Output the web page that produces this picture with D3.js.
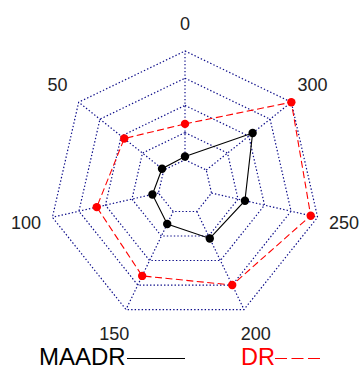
<!DOCTYPE html>
<html>
<head>
<meta charset="utf-8">
<script src="https://cdn.jsdelivr.net/npm/d3@7"></script>
<style>
  html, body { margin: 0; padding: 0; background: #fff; }
  svg { display: block; }
  text { font-family: "Liberation Sans", Arial, sans-serif; }
</style>
</head>
<body>
<svg id="chart" width="360" height="368"></svg>
<script>
// Axis labels, clockwise from the top
const axisLabels = ["0", "300", "250", "200", "150", "100", "50"];
// Scaled values (0 = innermost ring, 1 = outermost ring)
const maadr = [0.03, 0.545, 0.315, 0.275, 0.127, 0.057, 0.02];
const dr    = [0.33, 1.0, 0.935, 0.75, 0.657, 0.582, 0.464];
const gridLevels = [0, 0.25, 0.5, 0.75, 1];
const seriesNames = ["MAADR", "DR"];

const svg = d3.select("#chart");
const cx = 185, cy = 187, R = 136;
const g = svg.append("g").attr("transform", `translate(${cx},${cy})`);

const n = axisLabels.length;
const angle = d3.scaleLinear().domain([0, n]).range([0, 2 * Math.PI]);
const radius = d3.scaleLinear().domain([0, 1]).range([R * 0.2, R]);

const pt = (i, v) => {
  const a = angle(i), r = radius(v);
  return [r * Math.sin(a), -r * Math.cos(a)];
};

const gridColor = "#0a0a88";
// rings
gridLevels.forEach(l => {
  g.append("path")
    .attr("d", d3.line()(d3.range(n).map(i => pt(i, l))) + "Z")
    .attr("fill", "none")
    .attr("stroke", gridColor)
    .attr("stroke-width", 1.2)
    .attr("stroke-dasharray", "1.4,2.1");
});
// spokes
d3.range(n).forEach(i => {
  const p0 = pt(i, 0), p1 = pt(i, 1);
  g.append("line")
    .attr("x1", p0[0]).attr("y1", p0[1])
    .attr("x2", p1[0]).attr("y2", p1[1])
    .attr("stroke", gridColor)
    .attr("stroke-width", 1.2)
    .attr("stroke-dasharray", "1.4,2.1");
});

// axis labels
axisLabels.forEach((lab, i) => {
  const a = angle(i), r = R * 1.2;
  g.append("text")
    .attr("x", r * Math.sin(a))
    .attr("y", -r * Math.cos(a))
    .attr("text-anchor", "middle")
    .attr("dominant-baseline", "central")
    .attr("font-size", 18)
    .attr("fill", "#222")
    .text(lab);
});

function drawSeries(vals, color, dash) {
  const pts = vals.map((v, i) => pt(i, v));
  g.append("path")
    .attr("d", d3.line()(pts) + "Z")
    .attr("fill", "none")
    .attr("stroke", color)
    .attr("stroke-width", 1.1)
    .attr("stroke-dasharray", dash);
  g.selectAll(null).data(pts).enter().append("circle")
    .attr("cx", d => d[0]).attr("cy", d => d[1])
    .attr("r", 4.2)
    .attr("fill", color);
}
drawSeries(dr, "#ff0000", "7,3.5");
drawSeries(maadr, "#000000", null);

// legend
svg.append("text").attr("x", 39).attr("y", 365).attr("font-size", 24).attr("fill", "#000").text(seriesNames[0]);
svg.append("line").attr("x1", 127).attr("x2", 185).attr("y1", 358.5).attr("y2", 358.5)
  .attr("stroke", "#000").attr("stroke-width", 1.2);
svg.append("text").attr("x", 241).attr("y", 365).attr("font-size", 23.5).attr("fill", "#ff0000").text(seriesNames[1]);
svg.append("line").attr("x1", 275).attr("x2", 320).attr("y1", 358.5).attr("y2", 358.5)
  .attr("stroke", "#ff0000").attr("stroke-width", 1.2).attr("stroke-dasharray", "12,4.5");
</script>
</body>
</html>
